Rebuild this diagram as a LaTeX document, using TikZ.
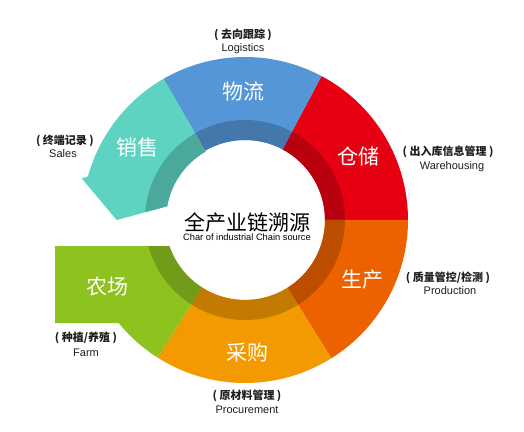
\documentclass[tikz,border=0pt]{standalone}
\usepackage{fontspec}
\setmainfont{Liberation Sans}
\newfontfamily\cjk{Noto Sans CJK SC}
\usetikzlibrary{calc}
\definecolor{cRed}{HTML}{E60012}
\definecolor{cBlue}{HTML}{5596D7}
\definecolor{cTeal}{HTML}{5ED3C1}
\definecolor{cOrange}{HTML}{EC6200}
\definecolor{cYellow}{HTML}{F39A00}
\definecolor{cGreen}{HTML}{8DC21F}
\definecolor{cText}{HTML}{1E1E1E}
\newcommand\ringseg[3]{%
  \fill[#1] ($(C)+(#2:80)$) -- ($(C)+(#2:163)$) arc[start angle=#2,end angle=#3,radius=163pt]
    -- ($(C)+(#3:80)$) arc[start angle=#3,end angle=#2,radius=80pt] -- cycle;
  \fill[#1!80!black] ($(C)+(#2:80)$) -- ($(C)+(#2:100)$) arc[start angle=#2,end angle=#3,radius=100pt]
    -- ($(C)+(#3:80)$) arc[start angle=#3,end angle=#2,radius=80pt] -- cycle;}
\tikzset{
  seglab/.style={inner sep=0pt,text=white,font=\cjk\fontsize{21}{21}\selectfont},
  outcn/.style={inner sep=0pt,text=cText,font=\cjk\bfseries\fontsize{11}{11}\selectfont},
  outen/.style={inner sep=0pt,text=cText,font=\fontsize{11}{11}\selectfont},
}
\newcommand\pl{(\hspace{2.5pt}}
\newcommand\pr{\hspace{2.5pt})}
\begin{document}
\begin{tikzpicture}[x=1pt,y=1pt]
\fill[white] (0,0) rectangle (524,431);
\useasboundingbox (0,0) rectangle (524,431);
\coordinate (C) at (245,211);
% ring segments
\ringseg{cRed}{0}{62}
\ringseg{cBlue}{62}{120}
\ringseg{cOrange}{302}{360}
\ringseg{cYellow}{237.5}{302}
% sales arrow
\def\arrowpath{($(C)+(120:80)$) -- ($(C)+(120:163)$) arc[start angle=120,end angle=164.5,radius=163pt]
  -- (81.7,252.7) -- (116.7,211) -- ($(C)+(170:79)$) arc[start angle=170,end angle=120,radius=79pt] -- cycle}
\fill[cTeal] \arrowpath;
\begin{scope}
  \clip \arrowpath;
  \fill[cTeal!80!black] (C) circle[radius=100pt];
\end{scope}
% farm block
\def\farmpath{($(C)+(199:80)$) -- (55,185) -- (55,108) -- ($(C)+(219.2:163)$)
  arc[start angle=219.2,end angle=237.5,radius=163pt] -- ($(C)+(237.5:80)$)
  arc[start angle=237.5,end angle=199,radius=80pt] -- cycle}
\fill[cGreen] \farmpath;
\begin{scope}
  \clip \farmpath;
  \fill[cGreen!80!black] (C) circle[radius=100pt];
\end{scope}
% segment labels
\node[seglab] (wl) at (243,339) {物流};
\node[seglab] (cc) at (358,275) {仓储};
\node[seglab] (xs) at (137,283) {销售};
\node[seglab] (sc) at (362,151) {生产};
\node[seglab] (cg) at (247,78) {采购};
\node[seglab] (nc) at (107,144) {农场};
% centre
\node[inner sep=0pt,text=black,font=\cjk\fontsize{21}{21}\selectfont] (title) at (247,209) {全产业链溯源};
\node[inner sep=0pt,text=black,font=\fontsize{9.3}{9.3}\selectfont] (sub) at (247,194) {Char of industrial Chain source};
% outer labels
\node[outcn] (l1) at (243,396) {\pl 去向跟踪\pr};
\node[outen] (l2) at (243,382) {Logistics};
\node[outcn] (w1) at (448,279) {\pl 出入库信息管理\pr};
\node[outen] (w2) at (452,264) {Warehousing};
\node[outcn] (s1) at (65,290) {\pl 终端记录\pr};
\node[outen] (s2) at (63,277) {Sales};
\node[outcn] (p1) at (448,153) {\pl 质量管控/检测\pr};
\node[outen] (p2) at (450,140) {Production};
\node[outcn] (f1) at (86,93) {\pl 种植/养殖\pr};
\node[outen] (f2) at (86,78) {Farm};
\node[outcn] (r1) at (247,35) {\pl 原材料管理\pr};
\node[outen] (r2) at (247,21) {Procurement};
\end{tikzpicture}
\end{document}
